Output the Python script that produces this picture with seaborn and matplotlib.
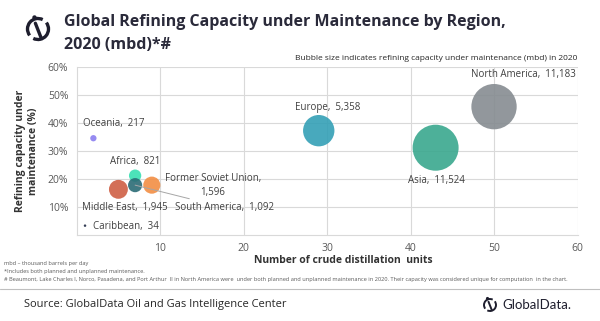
import matplotlib
matplotlib.use("Agg")
import matplotlib.pyplot as plt
from matplotlib.patches import Arc
from matplotlib.lines import Line2D
import seaborn as sns
import pandas as pd

# Refining capacity under maintenance by region, 2020
regions = ["North America", "Asia", "Europe", "Middle East", "Former Soviet Union",
           "Africa", "South America", "Oceania", "Caribbean"]
units = [50, 43, 29, 5, 9, 7, 7, 2, 1]                       # crude distillation units
share = [45.8, 31.1, 37.2, 16.2, 17.7, 21.1, 17.7, 34.5, 3.2]  # % of capacity under maintenance
capacity = [11183, 11524, 5358, 1945, 1596, 821, 1092, 217, 34]  # mbd
colors = ["#868c91", "#3aa88e", "#34a0b6", "#cf5f45", "#f28e44",
          "#38dfb2", "#2b6c76", "#8b7ff0", "#1f2a44"]

x_ticks = [10, 20, 30, 40, 50, 60]
y_ticks = [10, 20, 30, 40, 50, 60]

df = pd.DataFrame({"region": regions, "units": units, "share": share, "capacity": capacity})

sns.set_theme(style="white")
plt.rcParams["font.family"] = ["Open Sans", "DejaVu Sans"]

fig = plt.figure(figsize=(6, 3.21), dpi=100)
ax = fig.add_axes([0.1278, 0.2692, 0.8347, 0.5221])

# bubble area proportional to capacity (scatter size is in points^2)
k = 0.0952
sns.scatterplot(data=df, x="units", y="share", hue="region", size="capacity",
                palette=dict(zip(regions, colors)),
                sizes=(k * min(capacity), k * max(capacity)),
                size_norm=(min(capacity), max(capacity)),
                alpha=0.9, linewidth=0, legend=False, ax=ax, zorder=3)

ax.set_xlim(0, 60)
ax.set_ylim(0, 60)
ax.set_xticks(x_ticks)
ax.set_yticks(y_ticks)
ax.set_yticklabels([f"{v}%" for v in y_ticks])
ax.tick_params(axis="both", length=0, labelsize=7.5, labelcolor="#595959", pad=6)
ax.grid(True, color="#d9d9d9", linewidth=0.8, zorder=0)
ax.set_axisbelow(True)
for side in ["left", "bottom"]:
    ax.spines[side].set_color("#d9d9d9")
    ax.spines[side].set_linewidth(0.8)
for side in ["top", "right"]:
    ax.spines[side].set_visible(False)
ax.set_xlabel("")
ax.set_ylabel("")

# bubble labels: offsets in points from each bubble centre
label_style = dict(fontsize=7.0, color="#404040", textcoords="offset points", zorder=5)
offsets = {
    "North America": ((59, 23.3), "right", "center"),
    "Asia": ((0.7, -23.8), "center", "center"),
    "Europe": ((-17.3, 17), "left", "center"),
    "Middle East": ((-26.4, -13.2), "left", "center"),
    "Former Soviet Union": ((43.9, -0.4), "center", "center"),
    "Africa": ((0, 10), "center", "center"),
    "South America": ((28.6, -16.1), "left", "center"),
    "Oceania": ((-7.7, 10.3), "left", "center"),
    "Caribbean": ((5.8, -0.7), "left", "center"),
}
for r, xv, yv, cap in zip(regions, units, share, capacity):
    (dx, dy), ha, va = offsets[r]
    if r == "Former Soviet Union":
        txt = f"{r},\n{cap:,}"
    else:
        txt = f"{r},  {cap:,}"
    kw = {}
    if r == "South America":
        kw["arrowprops"] = dict(arrowstyle="-", color="#a6a6a6", lw=0.7,
                                shrinkA=0, shrinkB=0)
    ax.annotate(txt, (xv, yv), xytext=(dx, dy), ha=ha, va=va,
                multialignment="center", linespacing=1.35, **label_style, **kw)

# axis titles
fig.text(0.573, 0.187, "Number of crude distillation  units", ha="center", va="center",
         fontsize=7.5, fontweight="bold", color="#333333")
fig.text(0.045, 0.53, "Refining capacity under\nmaintenance (%)", ha="center", va="center",
         rotation=90, fontsize=7.5, fontweight="bold", color="#333333", linespacing=1.2)

# title block
fig.text(0.107, 0.931, "Global Refining Capacity under Maintenance by Region,",
         ha="left", va="center", fontsize=11.5, fontweight="bold", color="#2a2a3a")
fig.text(0.107, 0.86, "2020 (mbd)*#", ha="left", va="center",
         fontsize=11.5, fontweight="bold", color="#2a2a3a")
fig.text(0.9625, 0.819, "Bubble size indicates refining capacity under maintenance (mbd) in 2020",
         ha="right", va="center", fontsize=6.0, color="#262626")


def draw_logo(cx, cy, r, lw, color):
    """Circle-with-slash emblem drawn in figure pixel space."""
    w, h = fig.bbox.width, fig.bbox.height
    arc1 = Arc((cx / w, 1 - cy / h), 2 * r / w, 2 * r / h, theta1=75, theta2=235,
               transform=fig.transFigure, color=color, lw=lw)
    arc2 = Arc((cx / w, 1 - cy / h), 2 * r / w, 2 * r / h, theta1=255, theta2=415,
               transform=fig.transFigure, color=color, lw=lw)
    fig.add_artist(arc1)
    fig.add_artist(arc2)
    x0, y0 = cx - 0.25 * r, cy - 0.55 * r
    x1, y1 = cx + 0.3 * r, cy + 0.85 * r
    fig.add_artist(Line2D([x0 / w, x1 / w], [1 - y0 / h, 1 - y1 / h],
                          transform=fig.transFigure, color=color, lw=lw,
                          solid_capstyle="round"))
    dx, dy = cx - 0.42 * r, cy - 1.12 * r
    fig.add_artist(Line2D([dx / w], [1 - dy / h], marker="o", markersize=lw * 0.9,
                          color=color, transform=fig.transFigure, lw=0))


draw_logo(38, 29, 10.5, 2.4, "#1e1e2e")

# footnotes
foot = dict(fontsize=4.05, color="#595959", ha="left", va="center")
fig.text(0.007, 0.178, "mbd \u2013 thousand barrels per day", **foot)
fig.text(0.007, 0.153, "*Includes both planned and unplanned maintenance.", **foot)
fig.text(0.007, 0.129,
         "# Beaumont, Lake Charles I, Norco, Pasadena, and Port Arthur  II in North America were  "
         "under both planned and unplanned maintenance in 2020. Their capacity was considered "
         "unique for computation  in the chart.", **foot)
fig.add_artist(Line2D([0, 1], [0.1, 0.1], transform=fig.transFigure,
                      color="#bfbfbf", lw=0.8))

# source line and brand mark
fig.text(0.04, 0.05, "Source: GlobalData Oil and Gas Intelligence Center", ha="left",
         va="center", fontsize=8, color="#262626")
draw_logo(490, 305, 6, 1.4, "#1e1e2e")
fig.text(0.838, 0.05, "GlobalData.", ha="left", va="center", fontsize=9.5,
         color="#1e1e2e", family=["Lato", "DejaVu Sans"])

fig.savefig("out.png", dpi=100)
